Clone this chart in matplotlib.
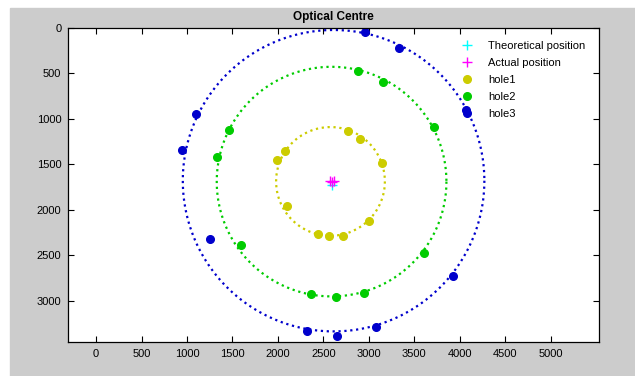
import numpy as np
import matplotlib.pyplot as plt
from matplotlib.patches import Rectangle

plt.rcParams['font.family'] = ['Liberation Sans', 'DejaVu Sans']

# theoretical and measured centre positions (pixels)
theo_x = [2592]
theo_y = [1726]
actual_x = [2576, 2600, 2622]
actual_y = [1688, 1690, 1686]

# hole sample points
hole1_x = [2079, 1991, 2769, 2904, 3146, 2097, 2439, 2560, 2714, 3003]
hole1_y = [1350, 1456, 1130, 1221, 1489, 1958, 2266, 2285, 2285, 2120]
hole2_x = [1463, 1335, 2875, 3154, 3718, 1595, 2365, 2637, 2941, 3601]
hole2_y = [1122, 1416, 469, 590, 1093, 2387, 2926, 2963, 2915, 2472]
hole3_x = [1100, 943, 2959, 3326, 4070, 1258, 2321, 2648, 3073, 3924]
hole3_y = [946, 1339, 48, 224, 902, 2325, 3330, 3388, 3286, 2728]

# fitted circles: centre x, centre y, radius
circle_cx = [2578, 2590, 2612]
circle_cy = [1688, 1690, 1680]
circle_r = [598, 1263, 1658]

colors = ['#cccc00', '#00cc00', '#0000cc']

fig = plt.figure(figsize=(6.35, 3.76), dpi=100)
fig.patch.set_facecolor('white')
fig.patches.append(Rectangle((10 / 635, 0), 1, (376 - 8) / 376,
                             transform=fig.transFigure, color='#cccccc', zorder=-10))

ax = fig.add_axes([68.3 / 635, (376 - 342.3) / 376, 530.2 / 635, 314.3 / 376])

t = np.linspace(0, 2 * np.pi, 400)
for cx, cy, r, c in zip(circle_cx, circle_cy, circle_r, colors):
    ax.plot(cx + r * np.cos(t), cy + r * np.sin(t), ':', color=c, lw=1.6)

ax.plot(theo_x, theo_y, '+', color='#00ffff', ms=7, mew=1, label='Theoretical position')
ax.plot(actual_x, actual_y, '+', color='#ff00ff', ms=7, mew=1, linestyle='none',
        label='Actual position')
ax.plot(hole1_x, hole1_y, 'o', color=colors[0], ms=5.5, linestyle='none', label='hole1')
ax.plot(hole2_x, hole2_y, 'o', color=colors[1], ms=5.5, linestyle='none', label='hole2')
ax.plot(hole3_x, hole3_y, 'o', color=colors[2], ms=5.5, linestyle='none', label='hole3')

ax.set_xlim(-305, 5525)
ax.set_ylim(3458, 0)
ax.set_xticks(np.arange(0, 5001, 500))
ax.set_yticks(np.arange(0, 3001, 500))
ax.tick_params(direction='in', top=True, right=True, length=4, labelsize=8,
               labeltop=False, labelright=False, pad=5)
for s in ax.spines.values():
    s.set_linewidth(0.9)

ax.set_title('Optical Centre', fontsize=8.5, fontweight='bold', pad=6)

ax.legend(loc='upper left', bbox_to_anchor=(0.7416, 0.958), frameon=False,
          fontsize=8, borderpad=0, borderaxespad=0, handlelength=1.0,
          handletextpad=1.4, labelspacing=0.63)

fig.savefig('out.png', dpi=100)
